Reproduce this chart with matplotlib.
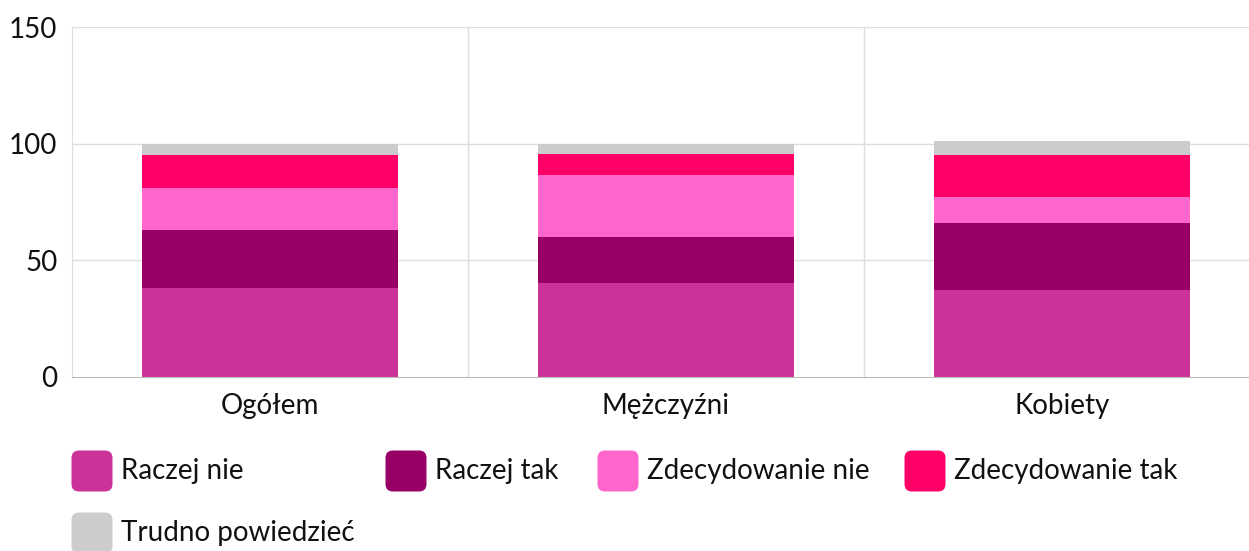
import matplotlib
matplotlib.use("Agg")
import matplotlib.pyplot as plt
from matplotlib.patches import FancyBboxPatch
import numpy as np

categories = ["Ogółem", "Mężczyźni", "Kobiety"]
series_names = ["Raczej nie", "Raczej tak", "Zdecydowanie nie", "Zdecydowanie tak", "Trudno powiedzieć"]
raczej_nie = [38, 40, 37]
raczej_tak = [25, 20, 29]
zdecydowanie_nie = [18, 26.5, 11]
zdecydowanie_tak = [14, 9, 18]
trudno = [5, 4.5, 6]
colors = ["#CC3399", "#990066", "#FF66CC", "#FF0066", "#CCCCCC"]
yticks = [0, 50, 100, 150]

plt.rcParams['font.family'] = ['Lato', 'DejaVu Sans']
FS = 20

W, H = 1249, 551
fig = plt.figure(figsize=(W / 100, H / 100), dpi=100)
ax_left, ax_right = 72, 1260
ax_bottom, ax_top = 376.7, 27
ax = fig.add_axes([ax_left / W, (H - ax_bottom) / H, (ax_right - ax_left) / W, (ax_bottom - ax_top) / H])

x = np.arange(len(categories))
bottom = np.zeros(len(categories))
for name, vals, c in zip(series_names, [raczej_nie, raczej_tak, zdecydowanie_nie, zdecydowanie_tak, trudno], colors):
    ax.bar(x, vals, width=0.645, bottom=bottom, color=c, linewidth=0, zorder=3)
    bottom += np.array(vals)

ax.set_xlim(-0.5, len(categories) - 0.5)
ax.set_ylim(0, 150)
ax.set_yticks(yticks)
ax.set_yticklabels([str(t) for t in yticks], fontsize=FS, color="#111111")
ax.set_xticks(x)
ax.set_xticklabels(categories, fontsize=FS, color="#111111")
ax.tick_params(axis='y', length=0, pad=10.5)
ax.tick_params(axis='x', length=0, pad=12)

for t in yticks[1:]:
    ax.axhline(t, color="#dddddd", lw=1, zorder=1)
for b in [0.5, 1.5]:
    ax.axvline(b, color="#dddddd", lw=1, zorder=1)
for s in ["top", "right"]:
    ax.spines[s].set_visible(False)
ax.spines["left"].set_color("#dddddd")
ax.spines["bottom"].set_color("#bbbbbb")
ax.spines["bottom"].set_zorder(4)

# legend (manual flow layout)
leg_pos = [(72, 471), (386, 471), (598, 471), (905, 471), (72, 533)]
for (px, py), name, c in zip(leg_pos, series_names, colors):
    box = FancyBboxPatch(((px + 2) / W, (H - py - 18) / H), 36 / W, 36 / H,
                         boxstyle="round,pad=0.002,rounding_size=0.006",
                         transform=fig.transFigure, facecolor=c, edgecolor="none",
                         mutation_aspect=W / H)
    fig.patches.append(box)
    fig.text((px + 49) / W, (H - py) / H, name, fontsize=FS, color="#111111",
             va="center", ha="left")

fig.savefig("out.png", dpi=100)
